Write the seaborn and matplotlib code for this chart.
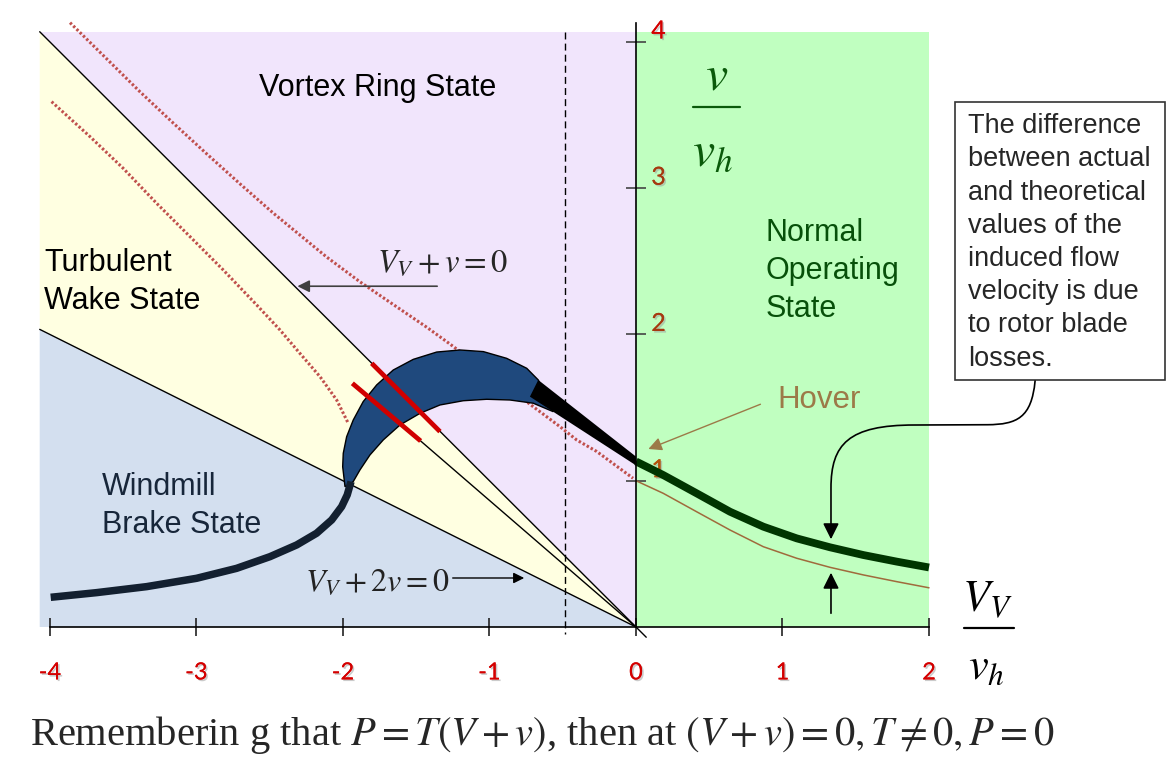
import matplotlib
matplotlib.use("Agg")
import matplotlib.pyplot as plt
import matplotlib.patheffects as pe
import seaborn as sns
from matplotlib.patches import FancyArrowPatch, Rectangle
from matplotlib.path import Path
from matplotlib.transforms import ScaledTranslation

# values; x = V_V / v_h, y = v / v_h
x_ticks = [-4, -3, -2, -1, 0, 1, 2]
y_ticks = [1, 2, 3, 4]
y_tick_colors = ["#b4520c", "#a63a10", "#a63a10", "#d40000"]

# shaded flow-state regions
region_left = -4.07
region_top = 4.07
region_right = 2.0
brake_line_x = [-4.07, 0.0]        # V_V + 2v = 0
brake_line_y = [2.035, 0.0]
zero_flow_x = [-4.07, 0.07]        # V_V + v = 0
zero_flow_y = [4.07, -0.07]
inner_line_x = [-1.47, 0.0]
inner_line_y = [1.272, 0.0]
dash_x = -0.485

# climb: measured (thick) and momentum theory (thin)
climb_x = [0.0, 0.186, 0.414, 0.642, 0.869, 1.097, 1.324, 1.552, 1.780, 2.0]
climb_measured = [1.132, 1.039, 0.914, 0.788, 0.686, 0.606, 0.545, 0.492, 0.447, 0.407]
climb_theory = [1.0, 0.914, 0.788, 0.663, 0.549, 0.470, 0.408, 0.356, 0.310, 0.268]

# windmill brake branch (measured)
windmill_x = [-3.995, -3.681, -3.340, -2.999, -2.726, -2.498, -2.316, -2.180, -2.077, -2.009, -1.971, -1.945]
windmill_y = [0.203, 0.235, 0.276, 0.333, 0.401, 0.481, 0.561, 0.641, 0.732, 0.823, 0.903, 0.994]

# momentum theory, dotted
theory_upper_x = [-3.863, -3.613, -3.386, -3.158, -2.930, -2.703, -2.476, -2.112, -1.884,
                  -1.657, -1.429, -1.270, -0.701, -0.519, -0.405, -0.268, -0.02]
theory_upper_y = [4.132, 3.885, 3.660, 3.445, 3.235, 3.030, 2.830, 2.530, 2.360,
                  2.205, 2.050, 1.935, 1.506, 1.370, 1.279, 1.200, 1.017]
theory_lower_x = [-3.989, -3.727, -3.500, -3.272, -3.044, -2.817, -2.589, -2.430, -2.294,
                  -2.157, -2.043, -1.964]
theory_lower_y = [3.592, 3.353, 3.136, 2.897, 2.669, 2.441, 2.202, 2.031, 1.871,
                  1.712, 1.552, 1.393]

# measured band through the vortex ring state
band_outer_x = [-1.986, -2.002, -1.998, -1.975, -1.930, -1.862, -1.770, -1.657, -1.520,
                -1.360, -1.201, -1.042, -0.883, -0.746, -0.667]
band_outer_y = [0.959, 1.096, 1.188, 1.301, 1.415, 1.541, 1.655, 1.757, 1.830,
                1.880, 1.894, 1.883, 1.837, 1.769, 1.689]
band_inner_x = [-0.564, -0.701, -0.860, -1.019, -1.179, -1.338, -1.474, -1.611, -1.725,
                -1.816, -1.884, -1.930]
band_inner_y = [1.472, 1.530, 1.552, 1.557, 1.547, 1.518, 1.461, 1.381, 1.279,
                1.176, 1.074, 0.994]
wedge_x = [-0.667, 0.0, 0.0, -0.724]
wedge_y = [1.689, 1.165, 1.105, 1.575]

# red bars across the band
bar_x = [[-1.804, -1.338], [-1.936, -1.470]]
bar_y = [[1.803, 1.336], [1.666, 1.272]]

sns.set_theme(style="white")
plt.rcParams["font.family"] = ["Liberation Sans", "DejaVu Sans"]
plt.rcParams["mathtext.fontset"] = "stix"

fig = plt.figure(figsize=(11.7, 7.59), dpi=100)
ax = fig.add_axes([0, 0, 1, 1])


def line(x, y, **kw):
    sns.lineplot(x=x, y=y, ax=ax, sort=False, estimator=None, legend=False, **kw)


# regions
ax.fill([region_left, region_left, 0], [0, brake_line_y[0], 0], color="#d3dfef", lw=0, zorder=0.5)
ax.fill([region_left, region_left, 0], [brake_line_y[0], region_top, 0], color="#ffffe1", lw=0, zorder=0.5)
ax.fill([region_left, 0, 0], [region_top, region_top, 0], color="#f1e5fc", lw=0, zorder=0.5)
ax.fill([0, region_right, region_right, 0], [0, 0, region_top, region_top], color="#c0ffc0", lw=0, zorder=0.5)

# boundary lines
line([dash_x, dash_x], [region_top, -0.05], color="black", lw=1, linestyle=(0, (5, 3)), zorder=1)
line(brake_line_x, brake_line_y, color="black", lw=1, zorder=1.5)
line(zero_flow_x, zero_flow_y, color="black", lw=1, zorder=1.5)
line(inner_line_x, inner_line_y, color="black", lw=1, zorder=1.5)

# theory curves
dot = (0, (0.8, 0.7))
line(theory_upper_x, theory_upper_y, color="#c0504d", lw=2.2, linestyle=dot, zorder=2)
line(theory_lower_x, theory_lower_y, color="#c0504d", lw=2.2, linestyle=dot, zorder=2)
line(climb_x, climb_theory, color="#a06a3c", lw=1.1, zorder=2)

# measured band
ax.fill(band_outer_x + band_inner_x, band_outer_y + band_inner_y,
        facecolor="#1f497d", edgecolor="black", lw=1, zorder=3)
line(windmill_x, windmill_y, color="#132030", lw=5.4, solid_capstyle="butt", zorder=3.5)
for bx, by in zip(bar_x, bar_y):
    line(bx, by, color="#d00000", lw=3.4, solid_capstyle="butt", zorder=4)
ax.fill(wedge_x, wedge_y, color="black", lw=0, zorder=4)
line(climb_x, climb_measured, color="#003500", lw=5.6, solid_capstyle="butt", zorder=4)

# axes through the origin
ax.spines["top"].set_visible(False)
ax.spines["left"].set_visible(False)
ax.spines["right"].set_position(("data", 0))
ax.spines["bottom"].set_position(("data", 0))
ax.spines["right"].set_bounds(0, 4.13)
ax.spines["bottom"].set_bounds(-4, 2)
for s in ("right", "bottom"):
    ax.spines[s].set_color("black")
    ax.spines[s].set_linewidth(1.2)
    ax.spines[s].set_zorder(4.5)
ax.xaxis.set_ticks_position("bottom")
ax.yaxis.set_ticks_position("right")
ax.set_xticks(x_ticks)
ax.set_xticklabels([str(t) for t in x_ticks])
ax.set_yticks(y_ticks)
ax.set_yticklabels([str(t) for t in y_ticks])
ax.tick_params(axis="x", direction="inout", length=13, width=1.2, color="#222222",
               pad=19, labelsize=17, labelcolor="#d40000")
ax.tick_params(axis="y", direction="inout", length=14, width=1.2, color="#444444",
               pad=4, labelsize=18, labelright=True, labelleft=False)
shadow = [pe.withSimplePatchShadow(offset=(1.2, -1.2), shadow_rgbFace="#999999", alpha=0.5), pe.Normal()]
for lab in ax.get_xticklabels():
    lab.set_fontfamily("Lato")
    lab.set_path_effects(shadow)
lift = ScaledTranslation(0, 0.13, fig.dpi_scale_trans)
for lab, c in zip(ax.get_yticklabels(), y_tick_colors):
    lab.set_fontfamily("Lato")
    lab.set_color(c)
    lab.set_path_effects(shadow)
    lab.set_transform(lab.get_transform() + lift)
ax.set_xlabel("")
ax.set_ylabel("")

# region names
ax.text(-1.761, 3.686, "Vortex Ring State", fontsize=22, ha="center", va="center", color="black", zorder=5)
ax.text(-4.041, 2.359, "Turbulent\nWake State", fontsize=22, ha="left", va="center",
        color="black", linespacing=1.31, zorder=5)
ax.text(-3.645, 0.827, "Windmill\nBrake State", fontsize=22, ha="left", va="center",
        color="#17263a", linespacing=1.31, zorder=5)
ax.text(0.887, 2.434, "Normal\nOperating\nState", fontsize=22, ha="left", va="center",
        color="#07500a", linespacing=1.35, zorder=5)
ax.text(0.963, 1.552, "Hover", fontsize=22.5, ha="left", va="center", color="#9c7a48", zorder=5)

# zero-flow line labels with arrows
ax.text(-1.324, 2.49, r"$V_V + v = 0$", fontsize=23.5, ha="center", va="center", zorder=5)
ax.annotate("", xy=(-2.33, 2.33), xytext=(-1.338, 2.33),
            arrowprops=dict(arrowstyle="-|>", color="#404040", lw=1.2, mutation_scale=18), zorder=5)
ax.text(-1.768, 0.30, r"$V_V + 2v = 0$", fontsize=23, ha="center", va="center", color="#222222", zorder=5)
ax.annotate("", xy=(-0.744, 0.335), xytext=(-1.27, 0.335),
            arrowprops=dict(arrowstyle="-|>", color="black", lw=1, mutation_scale=16), zorder=5)
ax.annotate("", xy=(0.067, 1.21), xytext=(0.867, 1.53),
            arrowprops=dict(arrowstyle="-|>", color="#9c7a48", lw=1, mutation_scale=20), zorder=5)

# axis fractions
green = "#0a5a0a"
ax.text(0.549, 3.761, r"$v$", fontsize=36, ha="center", va="center", color=green, zorder=5)
line([0.389, 0.71], [3.558, 3.558], color=green, lw=1.6, zorder=5)
ax.text(0.519, 3.248, r"$v_h$", fontsize=36, ha="center", va="center", color=green, zorder=5)
ax.text(2.40, 0.185, r"$V_V$", fontsize=32, ha="center", va="center", color="black", zorder=5)
line([2.237, 2.58], [-0.007, -0.007], color="black", lw=1.6, zorder=5)
ax.text(2.389, -0.28, r"$v_h$", fontsize=32, ha="center", va="center", color="black", zorder=5)

# explanation box and its arrows
ax.add_patch(Rectangle((2.177, 1.689), 1.434, 1.901, facecolor="white", edgecolor="#333333", lw=1.2, zorder=5))
ax.text(2.266, 2.63, "The difference\nbetween actual\nand theoretical\nvalues of the\ninduced flow\n"
        "velocity is due\nto rotor blade\nlosses.", fontsize=19.5, ha="left", va="center",
        linespacing=1.36, zorder=6)
curve = Path([(2.724, 1.682), (2.70, 1.43), (2.60, 1.385), (2.40, 1.383), (1.90, 1.381),
              (1.45, 1.381), (1.331, 1.25), (1.331, 0.95), (1.331, 0.60)],
             [Path.MOVETO, Path.CURVE4, Path.CURVE4, Path.CURVE4, Path.LINETO,
              Path.CURVE4, Path.CURVE4, Path.CURVE4, Path.LINETO])
ax.add_patch(FancyArrowPatch(path=curve, arrowstyle="-|>", mutation_scale=24, color="black", lw=1.2, zorder=5))
ax.annotate("", xy=(1.331, 0.39), xytext=(1.331, 0.075),
            arrowprops=dict(arrowstyle="-|>", color="black", lw=1.2, mutation_scale=24), zorder=5)

# caption
ax.text(-4.137, -0.738, r"Rememberin g that $P = T(V + v)$, then at $(V + v) = 0, T \neq 0, P = 0$",
        fontsize=29.2, ha="left", va="center", fontfamily="Liberation Serif", zorder=5)

ax.set_xlim(-4.341, 3.645)
ax.set_ylim(-0.9026, 4.287)
fig.savefig("out.png", dpi=100)
